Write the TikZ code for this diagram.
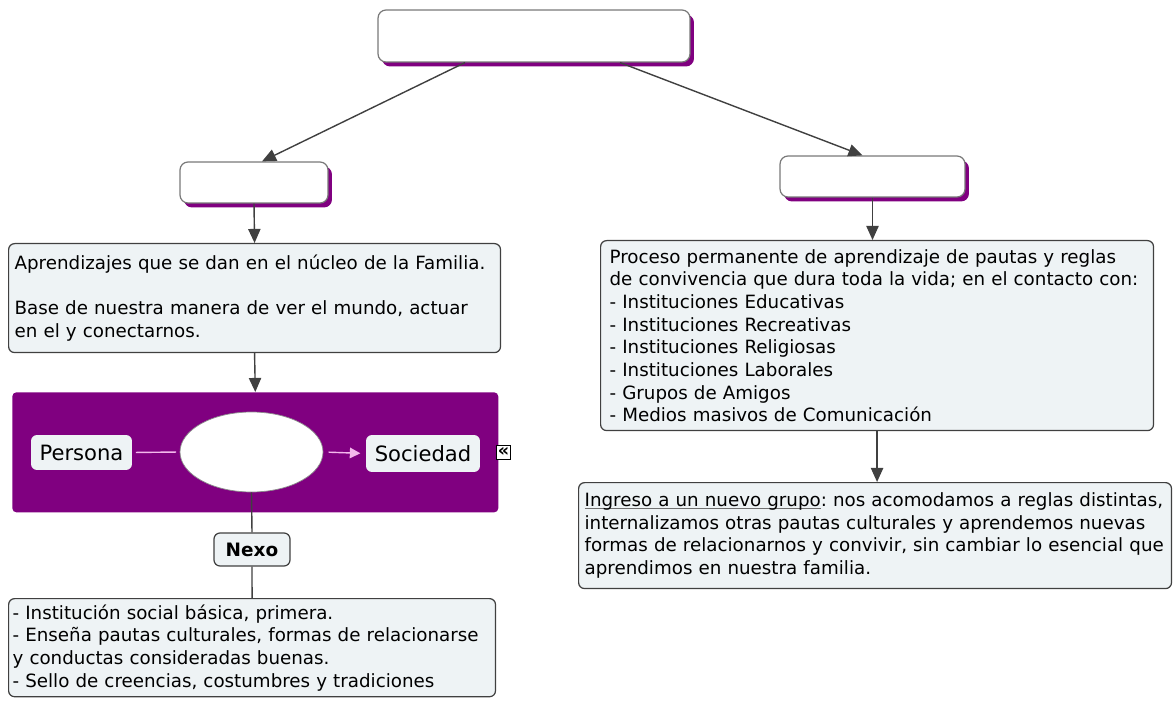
\documentclass[tikz,border=0pt]{standalone}
\usepackage{fontspec}
\setmainfont{DejaVu Sans}
\usetikzlibrary{shapes.geometric, shadows, arrows.meta}

\definecolor{mapPurple}{RGB}{128,0,128}
\definecolor{mapFill}{RGB}{238,243,245}
\definecolor{mapLine}{RGB}{64,64,64}
\definecolor{mapPink}{RGB}{244,184,236}

\newlength{\lowlinewd}
\newcommand{\lowline}[1]{\settowidth{\lowlinewd}{#1}%
  \rlap{\textcolor{mapLine!75}{\rule[-1.6pt]{\lowlinewd}{0.6pt}}}#1}

\tikzset{
  emptybox/.style={draw=mapLine!70, fill=white, rounded corners=0.16cm, line width=0.7pt,
    general shadow={fill=mapPurple, shadow xshift=0.08cm, shadow yshift=-0.09cm}},
  textbox/.style={draw=mapLine, fill=mapFill, rounded corners=0.12cm, line width=0.7pt,
    anchor=north west, align=left, font=\fontsize{10.4}{12.9}\selectfont\frenchspacing},
  pinbox/.style={fill=mapFill, rounded corners=0.12cm, font=\fontsize{12}{14}\selectfont, inner sep=0pt},
  link/.style={draw=mapLine, line width=0.8pt},
  arrowlink/.style={link, -{Triangle[length=8pt, width=7pt]}}
}

\begin{document}
\begin{tikzpicture}[x=0.02cm, y=-0.02cm]
\useasboundingbox (0,0) rectangle (1176,702);

%the empty boxes
\node [emptybox, minimum width=6.24cm, minimum height=1.04cm] (top) at (534,36) {};
\node [emptybox, minimum width=2.96cm, minimum height=0.82cm] (lsmall) at (254,182.5) {};
\node [emptybox, minimum width=3.7cm, minimum height=0.82cm] (rsmall) at (872.5,176.5) {};

%left branch
\node [textbox, text width=9.6cm, inner xsep=0.12cm, minimum height=2.18cm] (ltext) at (8,243)
  {Aprendizajes que se dan en el núcleo de la Familia.\\[12.9pt]
   Base de nuestra manera de ver el mundo, actuar\\ en el y conectarnos.};

\node [fill=mapPurple, rounded corners=0.08cm, anchor=north west,
  minimum width=9.72cm, minimum height=2.4cm, inner sep=0pt] (frame) at (12,392) {};
\node [pinbox, minimum width=2.02cm, minimum height=0.7cm] (persona) at (81.5,452.5) {Persona};
\node [pinbox, minimum width=2.28cm, minimum height=0.74cm] (sociedad) at (423,453.5) {Sociedad};
\node [ellipse, draw=mapLine!60, fill=white, minimum width=2.86cm, minimum height=1.6cm] (core) at (251.5,452) {};
\node [draw=black, fill=white, inner sep=0.5pt, minimum size=0.28cm,
  font=\fontsize{10}{10}\bfseries] (fold) at (503.5,452) {«};

\node [draw=mapLine, fill=mapFill, rounded corners=0.12cm, line width=0.7pt,
  minimum width=1.52cm, minimum height=0.66cm, font=\fontsize{10.5}{12}\bfseries] (nexo) at (252,549.5) {Nexo};

\node [textbox, text width=9.58cm, inner xsep=0.08cm, minimum height=1.8cm] (lbottom) at (8,598)
  {- Institución social básica, primera.\\
   - Enseña pautas culturales, formas de relacionarse\\
   y conductas consideradas buenas.\\
   - Sello de creencias, costumbres y tradiciones};

%right branch
\node [textbox, text width=10.7cm, inner xsep=0.18cm, minimum height=3.8cm] (rtext) at (600,240)
  {Proceso permanente de aprendizaje de pautas y reglas\\
   de convivencia que dura toda la vida; en el contacto con:\\
   - Instituciones Educativas\\
   - Instituciones Recreativas\\
   - Instituciones Religiosas\\
   - Instituciones Laborales\\
   - Grupos de Amigos\\
   - Medios masivos de Comunicación};

\node [textbox, text width=11.62cm, inner xsep=0.12cm, minimum height=2.12cm] (rbottom) at (578,482)
  {\mbox{\lowline{Ingreso a un nuevo grupo}: nos acomodamos a reglas distintas,}\\
   internalizamos otras pautas culturales y aprendemos nuevas\\
   formas de relacionarnos y convivir, sin cambiar lo esencial que\\
   aprendimos en nuestra familia.};

%the connectors
\draw [arrowlink] ([xshift=-1.38cm]top.south) -- ([xshift=0.16cm]lsmall.north);
\draw [arrowlink] ([xshift=1.72cm]top.south) -- ([xshift=-0.2cm]rsmall.north);
\draw [arrowlink] (lsmall.south) -- (ltext.north);
\draw [arrowlink] (ltext.south) -- (frame.north);
\draw [link] (core.south) -- (nexo.north);
\draw [link] (nexo.south) -- (lbottom.north);
\draw [arrowlink] (rsmall.south) -- (rsmall.south |- rtext.north);
\draw [arrowlink] (rtext.south) -- (rtext.south |- rbottom.north);

%inside the frame
\draw [draw=mapPink, line width=0.8pt, shorten >=2pt, shorten <=2pt] (persona.east) -- (core.west);
\draw [draw=mapPink, line width=0.8pt, shorten >=3pt, shorten <=3pt,
  -{Triangle[length=6pt, width=6pt]}] (core.east) -- (sociedad.west);
\end{tikzpicture}
\end{document}
